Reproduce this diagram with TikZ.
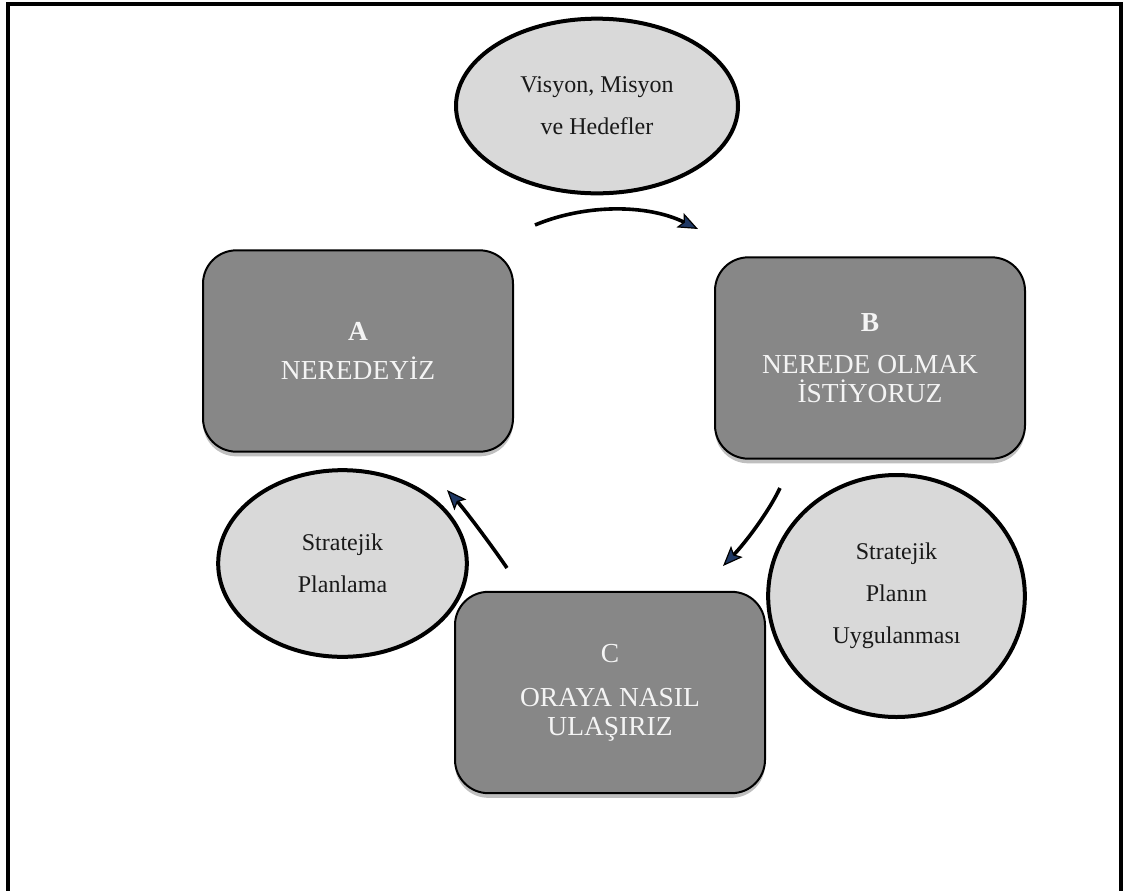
\documentclass[tikz,border=0pt]{standalone}
\usepackage{fontspec}
\setmainfont{Liberation Serif}
\usetikzlibrary{shapes.geometric,arrows.meta,shadows}
\definecolor{boxgray}{HTML}{878787}
\definecolor{ellgray}{HTML}{D9D9D9}
\definecolor{boxtext}{HTML}{F4F4F4}
\definecolor{arrowblue}{HTML}{1F3864}
\tikzset{
  stagebox/.style={rectangle, rounded corners=25pt, draw=black, line width=1.5pt,
    fill=boxgray, text=boxtext, align=center, inner sep=0pt,
    minimum width=232.5pt, minimum height=151pt,
    font=\fontsize{20.6pt}{21.75pt}\selectfont,
    drop shadow={shadow xshift=0pt, shadow yshift=-3.5pt, opacity=0.25, fill=black}},
  phase/.style={ellipse, draw=black, line width=3pt, fill=ellgray, text=black!90,
    align=center, inner sep=0pt,
    font=\fontsize{18pt}{31.5pt}\selectfont},
  cyclearrow/.style={draw=black, line width=2.7pt,
    -{Stealth[length=15pt, width=12pt, inset=3pt, fill=arrowblue, line width=0.9pt]}},
  frameline/.style={draw=black, line width=2.6pt}
}
\begin{document}
\begin{tikzpicture}[x=0.75pt, y=-0.75pt]
\useasboundingbox (0,0) rectangle (1129,890);
% outer frame (open at the bottom)
\coordinate (fbl) at (8,892);
\coordinate (ftl) at (8,4);
\coordinate (ftr) at (1121,4);
\coordinate (fbr) at (1121,892);
\draw[frameline] (fbl) -- (ftl) -- (ftr) -- (fbr);

% stage boxes
\node[stagebox] (A) at (358,351) {\textbf{A}\\[7pt]NEREDEYİZ};
\node[stagebox] (B) at (870,358) {\textbf{B}\\[10pt]NEREDE OLMAK\\İSTİYORUZ};
\node[stagebox] (C) at (610,692.5) {C\\[11pt]ORAYA NASIL\\ULAŞIRIZ};

% phase ellipses
\node[phase, minimum width=211.5pt, minimum height=131pt] (V) at (597,106)
  {Visyon, Misyon\\ve Hedefler};
\node[phase, minimum width=186.5pt, minimum height=140pt] (SP) at (342.5,563.5)
  {Stratejik\\Planlama};
\node[phase, minimum width=192.5pt, minimum height=181.5pt] (SU) at (896.5,596)
  {Stratejik\\Planın\\Uygulanması};

% cycle arrows
\coordinate (ab1) at (535,225);
\coordinate (ab2) at (698,229);
\draw[cyclearrow] (ab1) .. controls (585,204) and (647,204) .. (ab2);
\coordinate (bc1) at (780,488);
\coordinate (bc2) at (723,566);
\draw[cyclearrow] (bc1) .. controls (768,513) and (745,543) .. (bc2);
\coordinate (ca1) at (507,568);
\coordinate (ca2) at (447,490);
\draw[cyclearrow] (ca1) .. controls (492,546) and (465,510) .. (ca2);
\end{tikzpicture}
\end{document}
